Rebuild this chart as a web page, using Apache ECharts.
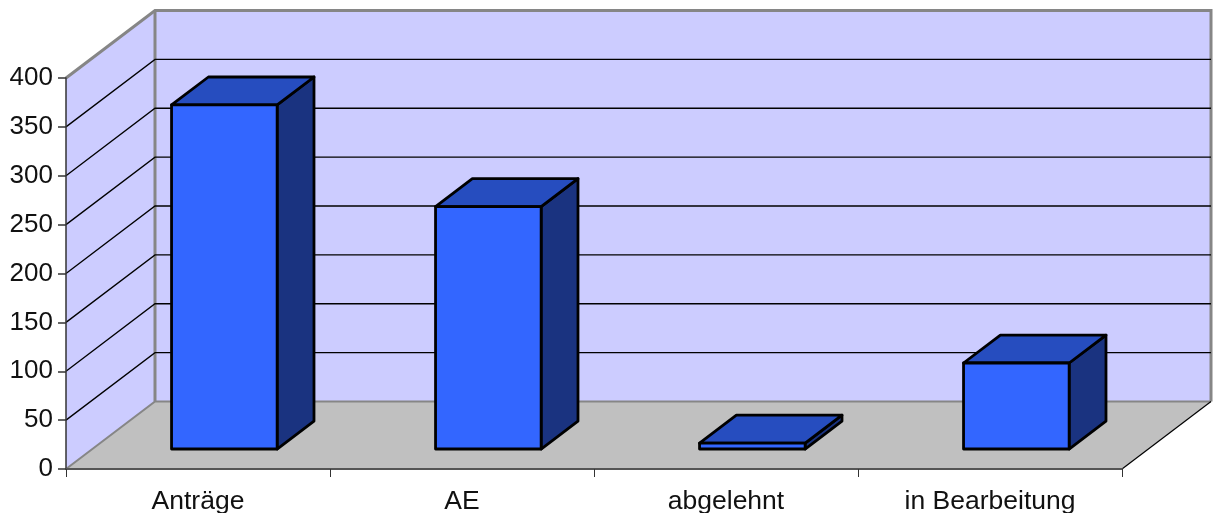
<!DOCTYPE html>
<html>
<head>
<meta charset="utf-8">
<style>html,body{margin:0;padding:0;background:#fff}#c{width:1213px;height:513px}</style>
<script src="https://cdn.jsdelivr.net/npm/echarts@6/dist/echarts.min.js"></script>
</head>
<body>
<div id="c"></div>
<script>
const categories = ['Anträge', 'AE', 'abgelehnt', 'in Bearbeitung'];
const values = [352, 248, 6, 88];
const gridTicks = [50, 100, 150, 200, 250, 300, 350];

const DEPTH_X = 89, DEPTH_Y = -67.5;
const BAR_SHARE = 0.4;
const BAR_FRONT = 0.296, BAR_BACK = 0.71;
const FONT = '"Liberation Sans", Arial, sans-serif';
const GREY = '#868686';

function poly(points, fill, stroke, lw) {
  return { type: 'polygon', shape: { points },
    style: { fill: fill, stroke: stroke || null, lineWidth: lw || 0, lineJoin: 'round' } };
}
function line(points, stroke, lw) {
  return { type: 'polyline', shape: { points },
    style: { fill: null, stroke: stroke, lineWidth: lw, lineJoin: 'miter' } };
}
function shift(p, k) { return [p[0] + DEPTH_X * k, p[1] + DEPTH_Y * k]; }

function renderWalls(params, api) {
  const band = api.size([1, 0])[0];
  const last = categories.length - 1;
  const a0 = api.coord([0, 0]), a1 = api.coord([0, 400]);
  const b0 = api.coord([last, 0]);
  const fl = [a0[0] - band / 2, a0[1]];
  const tl = [a1[0] - band / 2, a1[1]];
  const fr = [b0[0] + band / 2, b0[1]];
  const bl = shift(fl, 1), tb = shift(tl, 1), br = shift(fr, 1);
  const tr = [br[0], tb[1]];
  return { type: 'group', children: [
    poly([fl, bl, br, fr], '#C0C0C0'),
    poly([fl, tl, tb, bl], '#CCCCFF'),
    poly([bl, tb, tr, br], '#CCCCFF'),
    line([fl, bl, br], GREY, 2),
    line([tl, tb, tr, br], GREY, 3),
    line([tb, bl], GREY, 3),
    line([fr, br], '#000', 1.2)
  ] };
}

function renderGrid(params, api) {
  const band = api.size([1, 0])[0];
  const last = categories.length - 1;
  const l = api.coord([0, api.value(0)]);
  const r = api.coord([last, api.value(0)]);
  const f = [l[0] - band / 2, l[1]];
  const b = shift(f, 1);
  const e = [r[0] + band / 2 + DEPTH_X, b[1]];
  return line([f, b, e], '#000', 1.3);
}

function renderBar(params, api) {
  const band = api.size([1, 0])[0];
  const w = band * BAR_SHARE;
  const base = api.coord([api.value(0), 0]);
  const top = api.coord([api.value(0), api.value(1)]);
  const fbl = shift([base[0] - w / 2, base[1]], BAR_FRONT);
  const fbr = shift([base[0] + w / 2, base[1]], BAR_FRONT);
  const ftl = shift([base[0] - w / 2, top[1]], BAR_FRONT);
  const ftr = shift([base[0] + w / 2, top[1]], BAR_FRONT);
  const k = BAR_BACK - BAR_FRONT;
  const btl = shift(ftl, k), btr = shift(ftr, k), bbr = shift(fbr, k);
  return { type: 'group', children: [
    poly([ftr, fbr, bbr, btr], '#1A3380', '#000', 2.8),
    poly([ftl, btl, btr, ftr], '#264DBF', '#000', 2.8),
    poly([ftl, ftr, fbr, fbl], '#3366FF', '#000', 2.8)
  ] };
}

const chart = echarts.init(document.getElementById('c'), null, { renderer: 'canvas' });
chart.setOption({
  animation: false,
  backgroundColor: '#fff',
  grid: { left: 66, top: 78, width: 1056, height: 391, containLabel: false, outerBoundsMode: 'none' },
  xAxis: {
    type: 'category', data: categories, z: 5,
    axisLine: { show: true, lineStyle: { color: '#555', width: 2 } },
    axisTick: { show: true, length: 8, alignWithLabel: false, lineStyle: { color: '#333', width: 1 } },
    axisLabel: { color: '#111', fontFamily: FONT, fontSize: 26.5, margin: 19, interval: 0 },
    splitLine: { show: false }
  },
  yAxis: {
    type: 'value', min: 0, max: 400, interval: 50, z: 5,
    axisLine: { show: true, lineStyle: { color: '#333', width: 1.5 } },
    axisTick: { show: true, length: 8, lineStyle: { color: '#333', width: 1.5 } },
    axisLabel: { color: '#111', fontFamily: FONT, fontSize: 26, margin: 13, padding: [3, 0, 0, 0] },
    splitLine: { show: false }
  },
  series: [
    { type: 'custom', z: 1, renderItem: renderWalls, data: [[0]], silent: true, clip: false },
    { type: 'custom', z: 2, renderItem: renderGrid, data: gridTicks.map(t => [t]), silent: true, clip: false },
    { type: 'custom', z: 3, renderItem: renderBar, data: values.map((v, i) => [i, v]), clip: false }
  ]
});
</script>
</body>
</html>
